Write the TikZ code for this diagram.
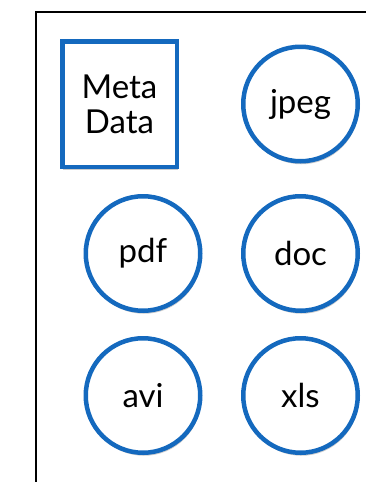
\documentclass[tikz,border=0pt]{standalone}
\usepackage{fontspec}
\setmainfont{Lato}
\usetikzlibrary{positioning,shadows}
\definecolor{fileblue}{HTML}{1469BE}
\tikzset{
    filecircle/.style={circle,draw=fileblue,line width=4.5pt,fill=white,minimum size=114.5pt,inner sep=0pt,
        font=\fontsize{33}{35}\selectfont,
        drop shadow={opacity=0.4,shadow xshift=1pt,shadow yshift=-3pt}},
    metabox/.style={rectangle,draw=fileblue,line width=4.5pt,fill=white,minimum width=114.5pt,minimum height=125.5pt,
        inner sep=0pt,align=center,font=\fontsize{33}{35}\selectfont,
        drop shadow={opacity=0.4,shadow xshift=1pt,shadow yshift=-3pt}},
    frameline/.style={draw=black,line width=2pt}
}

\begin{document}
\begin{tikzpicture}

                \useasboundingbox (0pt,0pt) rectangle (366pt,-482pt);

                % open frame, cut by the page edges
                \draw[frameline] (36pt,-482pt) |- (366pt,-11.5pt);

                \node[metabox]    (meta) at (119.5pt,-104pt)        {Meta\\Data};
                \node[filecircle] (jpeg) [right=62pt of meta]     {jpeg};

                \node[filecircle] (doc)  [below=30.5pt of jpeg]   {doc};
                \node[filecircle] (pdf)  [left=38.5pt of doc]     {pdf};

                \node[filecircle] (xls)  [below=23pt of doc]      {xls};
                \node[filecircle] (avi)  [left=38.5pt of xls]     {avi};

            \end{tikzpicture}
\end{document}
